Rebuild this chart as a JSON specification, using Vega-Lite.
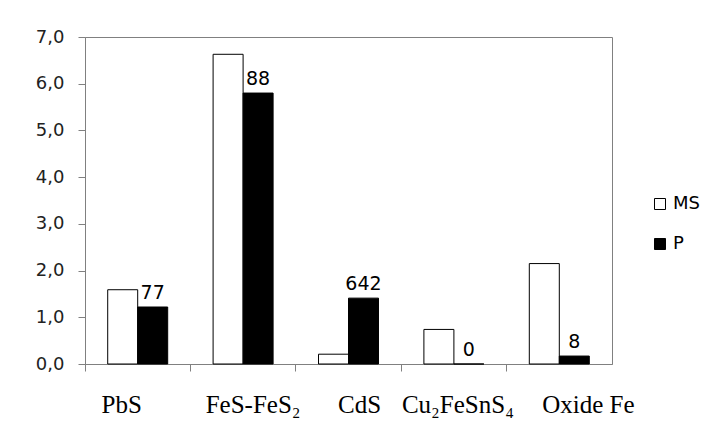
{
  "$schema": "https://vega.github.io/schema/vega-lite/v6.json",
  "width": 527,
  "height": 327,
  "autosize": {"type": "none"},
  "padding": {"left": 85, "top": 37, "right": 98, "bottom": 71},
  "background": "white",
  "config": {
    "view": {"stroke": "#808080", "strokeWidth": 1},
    "axis": {"domainColor": "#808080", "tickColor": "#808080", "grid": false, "title": null}
  },
  "data": {
    "values": [
      {"cat": "PbS", "series": "MS", "value": 1.59, "label": ""},
      {"cat": "PbS", "series": "P", "value": 1.22, "label": "77"},
      {"cat": "FeS-FeS₂", "series": "MS", "value": 6.63, "label": ""},
      {"cat": "FeS-FeS₂", "series": "P", "value": 5.8, "label": "88"},
      {"cat": "CdS", "series": "MS", "value": 0.21, "label": ""},
      {"cat": "CdS", "series": "P", "value": 1.41, "label": "642"},
      {"cat": "Cu₂FeSnS₄", "series": "MS", "value": 0.74, "label": ""},
      {"cat": "Cu₂FeSnS₄", "series": "P", "value": 0, "label": "0"},
      {"cat": "Oxide Fe", "series": "MS", "value": 2.15, "label": ""},
      {"cat": "Oxide Fe", "series": "P", "value": 0.17, "label": "8"}
    ]
  },
  "encoding": {
    "x": {
      "field": "cat", "type": "nominal", "sort": null,
      "scale": {"paddingInner": 0, "paddingOuter": 0},
      "axis": {
        "labelAngle": 0, "labelFont": "Liberation Serif", "labelFontSize": 25,
        "labelColor": "black", "ticks": true, "tickSize": 7, "bandPosition": 0,
        "domain": true, "labelPadding": 21, "labelBaseline": "top", "labelAlign": "center",
        "labelOffset": {
          "condition": [
            {"test": "datum.value == 'PbS'", "value": -16},
            {"test": "datum.value == 'FeS-FeS₂'", "value": 10},
            {"test": "datum.value == 'CdS'", "value": 11},
            {"test": "datum.value == 'Cu₂FeSnS₄'", "value": 4},
            {"test": "datum.value == 'Oxide Fe'", "value": 29}
          ],
          "value": 0
        }
      }
    },
    "xOffset": {"field": "series", "type": "nominal", "scale": {"domain": ["MS", "P"], "paddingInner": 0, "paddingOuter": 0.757}},
    "y": {
      "field": "value", "type": "quantitative",
      "scale": {"domain": [0, 7], "nice": false},
      "axis": {
        "values": [0, 1, 2, 3, 4, 5, 6, 7],
        "labelExpr": "replace(format(datum.value, '.1f'), '.', ',')",
        "labelFont": "DejaVu Sans", "labelFontSize": 18, "labelColor": "#222",
        "tickSize": 7, "labelPadding": 14
      }
    }
  },
  "layer": [
    {
      "mark": {"type": "bar", "stroke": "black", "strokeWidth": 1},
      "encoding": {
        "fill": {
          "field": "series", "type": "nominal",
          "scale": {"domain": ["MS", "P"], "range": ["white", "black"]},
          "legend": {
            "title": null, "orient": "none", "legendX": 566, "legendY": 158,
            "symbolType": "square", "symbolSize": 121, "symbolStrokeColor": "black",
            "symbolStrokeWidth": 1, "labelFont": "DejaVu Sans", "labelFontSize": 18,
            "labelColor": "black", "rowPadding": 22, "labelOffset": 4
          }
        }
      }
    },
    {
      "transform": [{"filter": "datum.series == 'P'"}],
      "mark": {"type": "text", "baseline": "alphabetic", "dy": -8, "font": "DejaVu Sans", "fontSize": 19, "color": "black"},
      "encoding": {"text": {"field": "label"}}
    }
  ]
}
